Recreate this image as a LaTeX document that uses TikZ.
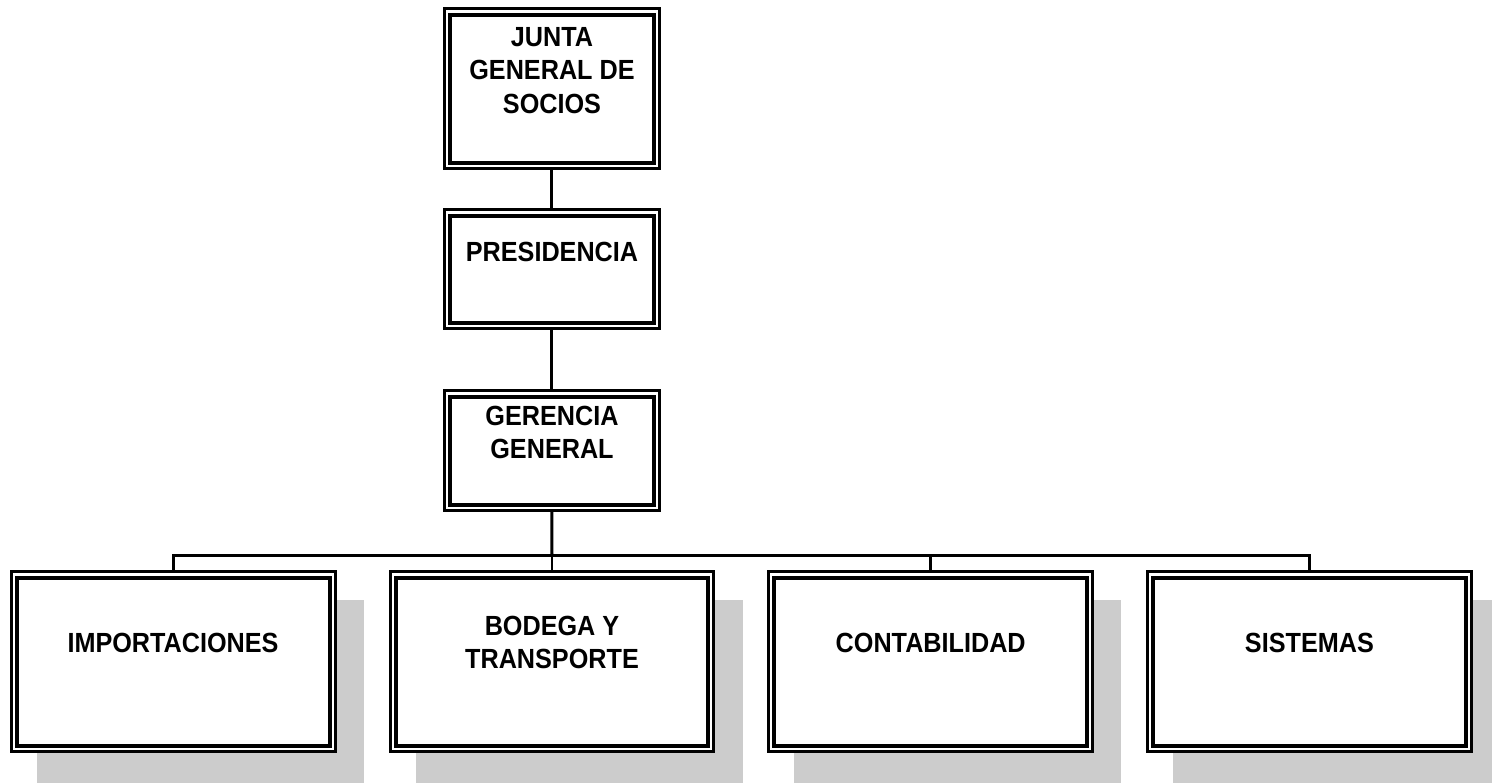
\documentclass[tikz,border=0pt]{standalone}
\usepackage{fontspec}
\setmainfont{Liberation Sans}[FakeStretch=0.91]
\usetikzlibrary{calc,backgrounds}
\definecolor{shadowgray}{HTML}{CCCCCC}
\begin{document}
\begin{tikzpicture}[x=1pt,y=-1pt,
  orgbox/.style={draw=black, fill=white, line width=3pt, outer sep=0pt, inner sep=0pt, rectangle},
  topbox/.style={orgbox, minimum width=214.5pt},
  lowbox/.style={orgbox, minimum width=323.5pt, minimum height=180pt},
  innerline/.style={draw=black, line width=4pt},
  label/.style={font=\fontsize{27.7}{33.5}\selectfont\bfseries, align=center, inner sep=0pt},
  link/.style={draw=black, line width=3pt},
  thinlink/.style={draw=black, line width=1.5pt},
  shadow/.style={fill=shadowgray}
]
\useasboundingbox (0,0) rectangle (1492,783);

% boxes
\node[topbox, minimum height=160.4pt] (junta) at (551.75,88.5) {};
\node[topbox, minimum height=119pt] (pres) at (551.75,269) {};
\node[topbox, minimum height=120pt] (ger) at (551.75,450.5) {};
\node[lowbox] (imp) at (173.3,661.7) {};
\node[lowbox] (bod) at (552,661.7) {};
\node[lowbox] (con) at (930.7,661.7) {};
\node[lowbox] (sis) at (1309.4,661.7) {};

% shadows
\begin{scope}[on background layer]
\foreach \n in {imp,bod,con,sis}
  \fill[shadow] ($(\n.north west)+(25.5,28.3)$) rectangle ($(\n.south east)+(29,31.3)$);
\end{scope}

% inner lines
\foreach \n in {junta,pres,ger,imp,bod,con,sis}
  \draw[innerline] ($(\n.north west)+(5.5,6.5)$) rectangle ($(\n.south east)+(-5.5,-5.5)$);

% texts
\node[label] (juntaT) at (552,70.5) {JUNTA\\GENERAL DE\\SOCIOS};
\node[label] (presT) at (552,252) {PRESIDENCIA};
\node[label] (gerT) at (552,432.5) {GERENCIA\\GENERAL};
\node[label] (impT) at (173,642.5) {IMPORTACIONES};
\node[label] (bodT) at (552,642.5) {BODEGA Y\\TRANSPORTE};
\node[label] (conT) at (930.7,642.5) {CONTABILIDAD};
\node[label] (sisT) at (1309.4,642.5) {SISTEMAS};

% connectors
\coordinate (bus) at (552,555);
\draw[link] (junta.south) -- (pres.north);
\draw[link] (pres.south) -- (ger.north);
\draw[link] (ger.south) -- (bus);
\draw[link] (bus) -| (imp.north);
\draw[thinlink] (bus) -- (bod.north);
\draw[link] (bus) -| (con.north);
\draw[link] (bus) -| (sis.north);
\end{tikzpicture}
\end{document}
